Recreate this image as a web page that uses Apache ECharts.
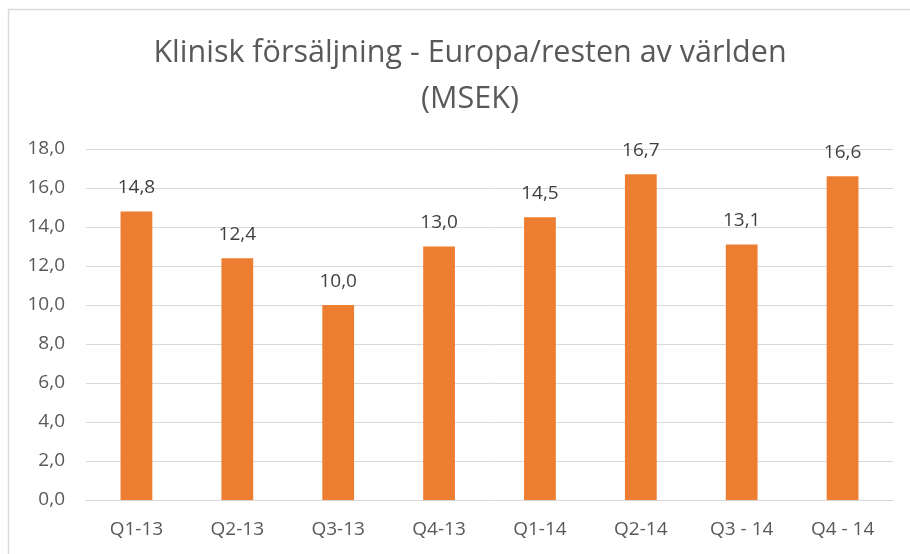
<!DOCTYPE html>
<html><head><meta charset="utf-8">
<script src="https://cdn.jsdelivr.net/npm/echarts@6/dist/echarts.min.js"></script>
<style>html,body{margin:0;padding:0;background:#fff}#c{width:910px;height:554px}</style>
</head><body><div id="c"></div>
<script>
const categories = ['Q1-13','Q2-13','Q3-13','Q4-13','Q1-14','Q2-14','Q3 - 14','Q4 - 14'];
const values = [14.8, 12.4, 10.0, 13.0, 14.5, 16.7, 13.1, 16.6];
const titleText = 'Klinisk försäljning - Europa/resten av världen\n(MSEK)';
const fmt = v => v.toFixed(1).replace('.', ',');
const font = 'Open Sans';
const chart = echarts.init(document.getElementById('c'));
chart.setOption({
  animation: false,
  graphic: [{type:'rect', shape:{x:8.5,y:9.5,width:920,height:560}, style:{fill:'none',stroke:'#d9d9d9',lineWidth:1.5}, silent:true}],
  title: {text: titleText, left: 465, textAlign: 'center', top: 25, textStyle:{fontFamily:font, fontSize:30.5, fontWeight:'normal', color:'#595959', lineHeight:46}},
  grid: {left: 86, right: 17, top: 149, bottom: 54},
  xAxis: {type:'category', data: categories, axisTick:{show:false}, axisLine:{lineStyle:{color:'#d9d9d9'}},
    axisLabel:{fontFamily:font, fontSize:19, color:'#595959', margin:20}},
  yAxis: {type:'value', min:0, max:18, interval:2, axisLine:{show:false}, axisTick:{show:false},
    splitLine:{lineStyle:{color:'#d9d9d9'}},
    axisLabel:{fontFamily:font, fontSize:19, color:'#595959', margin:21, formatter: v => fmt(v)}},
  series: [{type:'bar', data: values, barWidth:'31.5%', itemStyle:{color:'#ED7D31'},
    label:{show:true, position:'top', distance:14, fontFamily:font, fontSize:19, color:'#404040', formatter: p => fmt(p.value)}}]
});
</script></body></html>
